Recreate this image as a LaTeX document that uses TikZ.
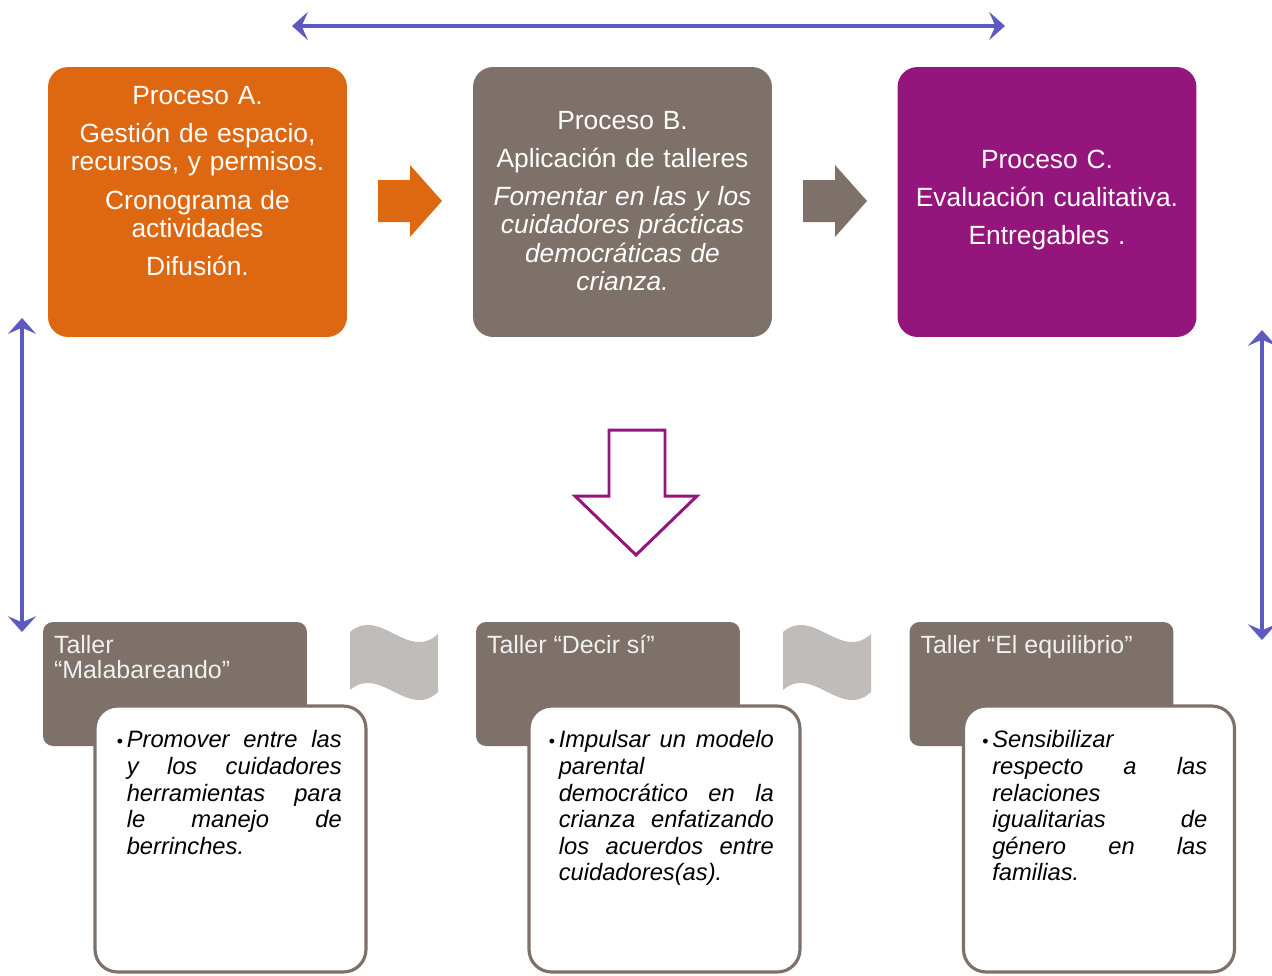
\documentclass[tikz,border=0pt]{standalone}
\usepackage{fontspec}
\setmainfont{Liberation Sans}
\usepackage{xcolor}
\usepackage{tikz}
\usetikzlibrary{arrows.meta,positioning,calc}
\definecolor{orangeA}{RGB}{222,104,18}
\definecolor{greyB}{RGB}{126,113,105}
\definecolor{purpleC}{RGB}{148,22,124}
\definecolor{linkblue}{RGB}{92,90,192}
\definecolor{flaggrey}{RGB}{192,188,186}
\newcommand{\cardbullet}{\makebox[0.2cm][l]{\raisebox{0.5pt}{\scalebox{0.75}{\textbullet}}}}

\begin{document}
\begin{tikzpicture}[x=0.02cm,y=-0.02cm,
  procbox/.style={rounded corners=0.4cm,minimum width=5.98cm,minimum height=5.4cm,inner sep=0pt},
  proctext/.style={text=white,text width=5.7cm,align=center,inner sep=0pt,font=\fontsize{15}{16.2}\selectfont},
  headbox/.style={fill=greyB,rounded corners=0.2cm,minimum width=5.28cm,minimum height=2.48cm,inner sep=0pt},
  headtext/.style={text=white!94!black,anchor=north west,inner sep=0pt,align=left,font=\fontsize{14.2}{14.5}\selectfont},
  cardbox/.style={fill=white,draw=greyB,line width=1.8pt,rounded corners=0.45cm,minimum width=5.42cm,minimum height=5.32cm,inner sep=0pt},
  cardtext/.style={anchor=north west,inner sep=0pt,text width=4.5cm,align=justify,font=\fontsize{13.5}{15.1}\selectfont},
  linkarrow/.style={draw=linkblue,line width=2.4pt,{Stealth[length=9pt,width=16pt,inset=3.5pt]}-{Stealth[length=9pt,width=16pt,inset=3.5pt]}}]
\useasboundingbox (0,0) rectangle (1272,975);

% top row
\node[procbox,fill=orangeA] (pA) at (197.5,202) {};
\node[procbox,fill=greyB] (pB) at (622.5,202) {};
\node[procbox,fill=purpleC] (pC) at (1047,202) {};
\node[proctext] (pAt) at (197.5,181) {Proceso A.\\[5.5pt]
  Gestión de espacio,\\ recursos, y permisos.\\[5.5pt]
  Cronograma de\\ actividades\\[5.5pt]
  Difusión.};
\node[proctext] (pBt) at (622.5,201) {Proceso B.\\[5.5pt]
  Aplicación de talleres\\[5.5pt]
  \itshape Fomentar en las y los\\ cuidadores prácticas\\ democráticas de\\ crianza.};
\node[proctext] (pCt) at (1047,200) {Proceso C.\\[5.5pt]
  Evaluación cualitativa.\\[5.5pt]
  Entregables .};

% block arrows
\fill[orangeA] (378,180) -- (410,180) -- (410,165) -- (442,201) -- (410,237) -- (410,222) -- (378,222) -- cycle;
\fill[greyB] (803,180) -- (835,180) -- (835,165) -- (867,201) -- (835,237) -- (835,222) -- (803,222) -- cycle;
\draw[purpleC,line width=1.7pt,fill=white] (609,430) -- (665,430) -- (665,496) -- (697,496) -- (636,555) -- (575,496) -- (609,496) -- cycle;

% blue links
\coordinate (topL) at (292,26);
\coordinate (topR) at (1005,26);
\coordinate (leftT) at (22,318);
\coordinate (leftB) at (22,632);
\coordinate (rightT) at (1262,330);
\coordinate (rightB) at (1262,640);
\draw[linkarrow] (topL) -- (topR);
\draw[linkarrow] (leftT) -- (leftB);
\draw[linkarrow] (rightT) -- (rightB);

% flags
\fill[flaggrey] (350,632) .. controls (380,606) and (408,662) .. (438,634) -- (438,692) .. controls (408,720) and (380,664) .. (350,690) -- cycle;
\fill[flaggrey] (783,632) .. controls (813,606) and (841,662) .. (871,634) -- (871,692) .. controls (841,720) and (813,664) .. (783,690) -- cycle;

% talleres
\node[headbox] (hA) at (175,684) {};
\node[headbox] (hB) at (608,684) {};
\node[headbox] (hC) at (1041.5,684) {};
\node[headtext] (hAt) at ([shift={(11,13)}]hA.north west) {Taller\\“Malabareando”};
\node[headtext] (hBt) at ([shift={(11,13)}]hB.north west) {Taller “Decir sí”};
\node[headtext] (hCt) at ([shift={(11,13)}]hC.north west) {Taller “El equilibrio”};

\node[cardbox] (cA) at (230.5,839) {};
\node[cardbox] (cB) at (664.5,839) {};
\node[cardbox] (cC) at (1099,839) {};
\node[cardtext] (cAt) at ([shift={(23,26)}]cA.north west) {\hangindent=0.2cm\hangafter=1\noindent\cardbullet\textit{Promover entre las\linebreak y los cuidadores\linebreak herramientas para\linebreak le manejo de\linebreak berrinches.}\par};
\node[cardtext] (cBt) at ([shift={(21,26)}]cB.north west) {\hangindent=0.2cm\hangafter=1\noindent\cardbullet\textit{Impulsar un modelo\linebreak parental\linebreak democrático en la\linebreak crianza enfatizando\linebreak los acuerdos entre\linebreak cuidadores(as).}\par};
\node[cardtext] (cCt) at ([shift={(20,26)}]cC.north west) {\hangindent=0.2cm\hangafter=1\noindent\cardbullet\textit{Sensibilizar\linebreak respecto a las\linebreak relaciones\linebreak igualitarias de\linebreak género en las\linebreak familias.}\par};
\end{tikzpicture}
\end{document}
